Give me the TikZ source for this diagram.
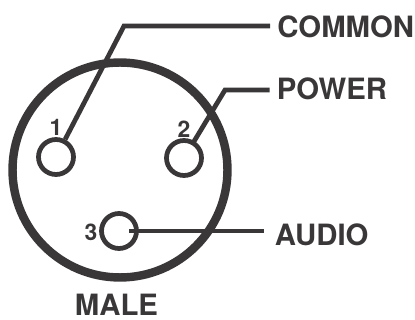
\documentclass[tikz,border=0pt]{standalone}
\usepackage{fontspec}
\setmainfont{TeX Gyre Heros}
\usepackage{tikz}

\definecolor{ink}{RGB}{58,55,56}

\begin{document}
\begin{tikzpicture}[
                    x=0.02cm,
                    y=-0.02cm,
                    pin/.style={
                        circle,
                        draw=ink,
                        line width=2.7pt,
                        minimum size=0.7cm,
                        inner sep=0pt
                    },
                    wire/.style={
                        draw=ink,
                        line width=2.7pt,
                        line join=miter
                    },
                    signal/.style={
                        text=ink,
                        anchor=west,
                        inner sep=0pt,
                        font=\bfseries\fontsize{16.7pt}{18pt}\selectfont
                    },
                    number/.style={
                        text=ink,
                        inner sep=0pt,
                        font=\bfseries\fontsize{13pt}{14pt}\selectfont
                    }
                ]
                    \useasboundingbox (0,0) rectangle (415,320);

                    % Shell
                    \node[circle, draw=ink, line width=4.8pt, minimum size=4.3cm, inner sep=0pt] (shell) at (120,170) {};

                    % Pins
                    \node[pin] (p1) at (56,157) {};
                    \node[pin] (p2) at (184,158) {};
                    \node[pin] (p3) at (119,231) {};

                    \node[number] (n1) at (56,127) {1};
                    \node[number] (n2) at (184,129) {2};
                    \node[number] (n3) at (91,232) {3};

                    % Labels
                    \node[signal] (common) at (277,26.5) {COMMON};
                    \node[signal] (power) at (276.5,89) {POWER};
                    \node[signal] (audio) at (274.5,235) {AUDIO};
                    \node[signal, anchor=center] (male) at (116.5,304.5) {MALE};

                    \coordinate (b1) at (124,26);
                    \coordinate (b2) at (225,90);

                    % Edges
                    \draw[wire, shorten >=7*0.02cm] (p1) -- (b1) -- (b1 -| common.west);
                    \draw[wire, shorten >=7*0.02cm, shorten <=-4*0.02cm] (p2) -- (b2) -- (b2 -| power.west);
                    \draw[wire, shorten >=11*0.02cm, shorten <=10*0.02cm] (p3.center) -- (p3.center -| audio.west);
                \end{tikzpicture}
\end{document}
